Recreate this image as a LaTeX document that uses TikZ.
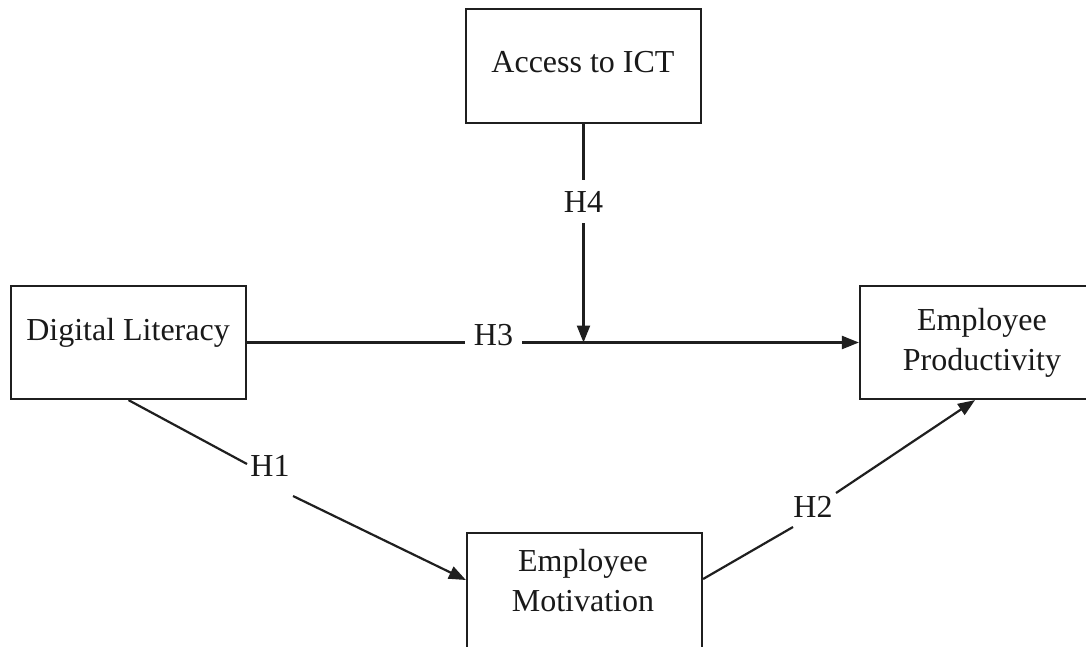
\documentclass[tikz,border=0pt]{standalone}
\usepackage{fontspec}
\setmainfont{Liberation Serif}
\usetikzlibrary{arrows.meta}
\begin{document}
\begin{tikzpicture}[x=1pt,y=-1pt,
  box/.style={draw=black!88,line width=2.2pt,minimum width=235pt,inner sep=0pt},
  lbl/.style={font=\fontsize{32}{40}\selectfont,text=black!90,align=center,inner sep=0pt},
  conn/.style={draw=black!88,line width=2.2pt},
  arr/.style={conn,-{Triangle[length=17pt,width=13pt]}}]
\useasboundingbox (0,0) rectangle (1086,646);
\clip (0,0) rectangle (1086,646);
\fill[white] (0,0) rectangle (1086,646);
% boxes
\node[box,minimum height=114pt] (ict) at (583.5,66) {};
\node[box,minimum height=113pt] (dl) at (128.5,342.5) {};
\node[box,minimum width=244pt,minimum height=113pt] (ep) at (982,342.5) {};
\node[box,minimum height=134pt] (em) at (584.5,600) {};
% box texts
\node[lbl] (ictt) at (583,62) {Access to ICT};
\node[lbl] (dlt) at (128,333) {Digital Literacy};
\node[lbl] (ept) at (982,343) {Employee\\Productivity};
\node[lbl] (emt) at (583,581) {Employee\\Motivation};
% hypothesis labels
\node[lbl,minimum width=57pt] (h3) at (493.5,335) {H3};
\node[lbl,minimum height=43pt] (h4) at (583.5,201.5) {H4};
\node[lbl] (h1) at (270,466) {H1};
\node[lbl] (h2) at (813,507) {H2};
% break points of the diagonal connectors
\coordinate (h1a) at (247,464);
\coordinate (h1b) at (293,496);
\coordinate (h2a) at (793,527);
\coordinate (h2b) at (836,493);
\coordinate (jn) at (583.5,342.5);
% connectors
\draw[conn] (dl.east) -- (dl.east -| h3.west);
\draw[arr] (h3.east |- ep.west) -- (ep.west);
\draw[conn] (ict.south) -- (h4.north);
\draw[arr] (h4.south) -- (jn);
\draw[conn] (dl.south) -- (h1a);
\draw[arr] (h1b) -- ([yshift=20pt]em.west);
\draw[conn] ([yshift=21pt]em.east) -- (h2a);
\draw[arr] (h2b) -- ([xshift=-7pt]ep.south);
\end{tikzpicture}
\end{document}
